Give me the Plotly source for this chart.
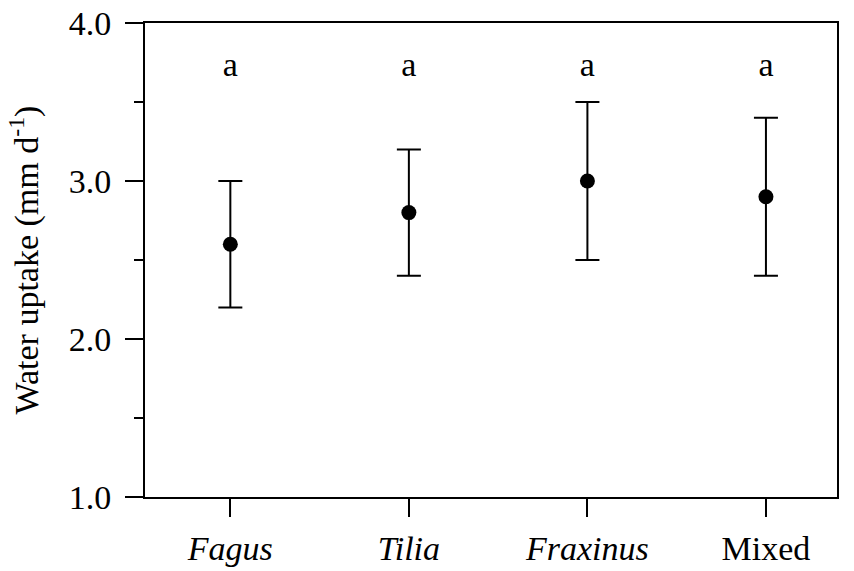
import plotly.graph_objects as go

categories = ["Fagus", "Tilia", "Fraxinus", "Mixed"]
tick_labels = ["<i>Fagus</i>", "<i>Tilia</i>", "<i>Fraxinus</i>", "Mixed"]
means = [2.6, 2.8, 3.0, 2.9]
upper = [3.0, 3.2, 3.5, 3.4]
lower = [2.2, 2.4, 2.5, 2.4]
letters = ["a", "a", "a", "a"]
letter_y = [3.72, 3.72, 3.72, 3.72]

xi = list(range(len(categories)))
err_plus = [u - m for u, m in zip(upper, means)]
err_minus = [m - l for m, l in zip(means, lower)]

FONT = "Liberation Serif"
FS = 34

fig = go.Figure()
fig.add_trace(go.Scatter(
    x=xi, y=means, mode="markers",
    marker=dict(color="black", size=15),
    error_y=dict(type="data", symmetric=False, array=err_plus, arrayminus=err_minus,
                 color="black", thickness=2, width=12),
    showlegend=False,
))
fig.add_trace(go.Scatter(
    x=xi, y=letter_y, mode="text", text=letters,
    textfont=dict(family=FONT, size=FS, color="black"),
    showlegend=False,
))

fig.update_layout(
    width=854, height=571,
    margin=dict(l=145, r=17, t=23, b=74),
    plot_bgcolor="white", paper_bgcolor="white",
    font=dict(family=FONT, size=FS, color="black"),
    xaxis=dict(
        range=[-0.478, 3.398], tickvals=xi, ticktext=tick_labels,
        showline=True, linecolor="black", linewidth=2, mirror=True,
        ticks="outside", ticklen=18, tickwidth=2, tickcolor="black",
        ticklabelstandoff=2, automargin=False,
        showgrid=False, zeroline=False,
        tickfont=dict(family=FONT, size=FS),
    ),
    yaxis=dict(
        range=[1.0, 4.0], tickvals=[1.0, 2.0, 3.0, 4.0], tickformat=".1f",
        showline=True, linecolor="black", linewidth=2, mirror=True,
        ticks="outside", ticklen=18, tickwidth=2, tickcolor="black",
        ticklabelstandoff=7, automargin=False,
        minor=dict(tickvals=[1.5, 2.5, 3.5], ticks="outside", ticklen=9,
                   tickwidth=2, tickcolor="black"),
        showgrid=False, zeroline=False,
        title=dict(text="Water uptake (mm d<sup>-1</sup>)", font=dict(family=FONT, size=FS), standoff=20),
        tickfont=dict(family=FONT, size=FS),
    ),
)

fig.write_html("out.html")
